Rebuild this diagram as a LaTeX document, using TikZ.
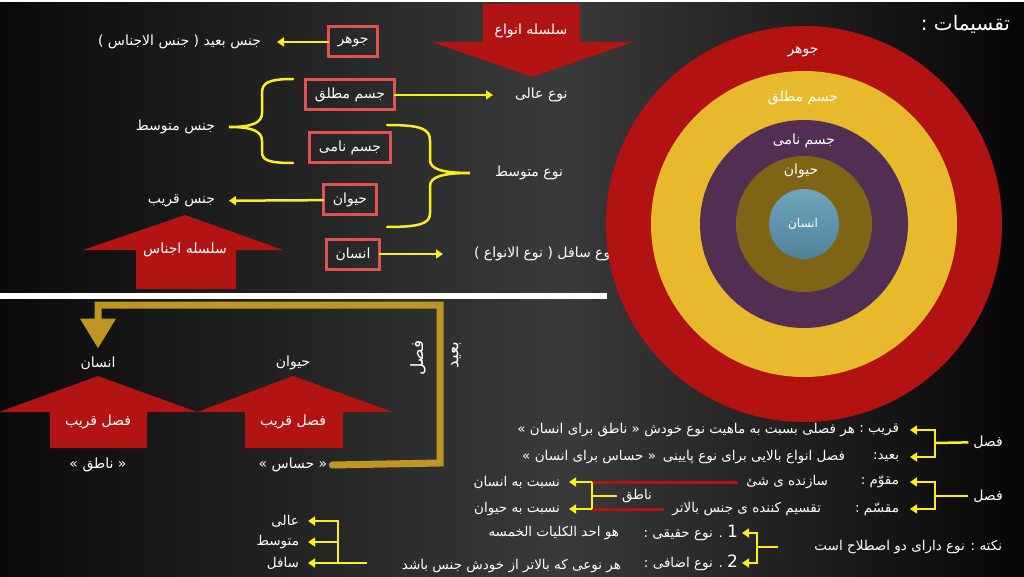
\documentclass[tikz,border=0pt]{standalone}
\usepackage{fontspec}
\setmainfont{DejaVu Sans}
\newfontfamily\arabicfont[Script=Arabic]{DejaVu Sans}
\TeXXeTstate=1
\usetikzlibrary{arrows.meta}
\definecolor{bgedge}{RGB}{10,10,10}
\definecolor{bgmid}{RGB}{58,58,58}
\definecolor{bgright}{RGB}{6,6,6}
\definecolor{arrowred}{RGB}{178,20,20}
\definecolor{boxred}{RGB}{226,82,82}
\definecolor{yel}{RGB}{250,238,30}
\definecolor{goldline}{RGB}{190,150,35}
\definecolor{ringred}{RGB}{178,18,18}
\definecolor{ringyel}{RGB}{232,185,45}
\definecolor{ringpur}{RGB}{82,46,82}
\definecolor{ringolive}{RGB}{128,100,22}
\definecolor{ringblueA}{RGB}{112,165,190}
\definecolor{ringblueB}{RGB}{80,130,155}
\newcommand{\fatext}[1]{\beginR#1\endR}
\newcommand{\fsbody}{\arabicfont\fontsize{14}{17}\selectfont}
\newcommand{\fsrow}{\arabicfont\fontsize{13.5}{16}\selectfont}
\newcommand{\fsbig}{\arabicfont\fontsize{20}{24}\selectfont}
\newcommand{\fsside}{\arabicfont\fontsize{17}{20}\selectfont}

\begin{document}
\begin{tikzpicture}[x=1pt,y=-1pt,
    txt/.style={text=white, inner sep=2pt, outer sep=0pt, font=\fsbody},
    rowtxt/.style={txt, anchor=east, font=\fsrow},
    redbox/.style={txt, draw=boxred, line width=3pt, inner xsep=9pt, minimum height=30pt},
    yline/.style={draw=yel, line width=2.5pt},
    yarr/.style={yline, -{Triangle[length=7pt,width=9pt]}},
    ybrace/.style={yline, line cap=round},
    redline/.style={draw=arrowred, line width=3pt},
    goldpath/.style={draw=goldline, line width=7pt, line cap=round}]
  \useasboundingbox (0,0) rectangle (1024,577);
  % background
  \shade[left color=bgedge, right color=bgmid] (0,0) rectangle (560,577);
  \shade[left color=bgmid, right color=bgright] (560,0) rectangle (1024,577);
  \draw[white, line width=2pt] (0,1) -- (1024,1);
  \fill[white] (0,293) rectangle (607,299);

  % block arrows, top
  \fill[arrowred] (483,4) -- (580,4) -- (580,42) -- (633,42) -- (532,77) -- (432,42) -- (483,42) -- cycle;
  \node[txt] (silanwa) at (531,31) {\fatext{سلسله انواع}};
  \fill[arrowred] (185,215) -- (283,250) -- (236,250) -- (236,289) -- (136,289) -- (136,250) -- (83,250) -- cycle;
  \node[txt] (silajnas) at (185,250) {\fatext{سلسله اجناس}};

  % boxes
  \node[redbox] (jawhar) at (353,42) {\fatext{جوهر}};
  \node[redbox] (jmutlaq) at (350,95) {\fatext{جسم مطلق}};
  \node[redbox] (jnami) at (350,148) {\fatext{جسم نامی}};
  \node[redbox] (haywan) at (350,200) {\fatext{حیوان}};
  \node[redbox] (insan) at (353,254) {\fatext{انسان}};

  \node[txt, anchor=east] (jbaid) at (263,42) {\fatext{جنس بعید ( جنس الاجناس )}};
  \node[txt, anchor=east] (jmid) at (217,127) {\fatext{جنس متوسط}};
  \node[txt, anchor=east] (jqarib) at (217,201) {\fatext{جنس قریب}};
  \node[txt, anchor=west] (nali) at (513,95) {\fatext{نوع عالی}};
  \node[txt, anchor=west] (nmid) at (493,173) {\fatext{نوع متوسط}};
  \node[txt, anchor=west] (nsafil) at (472,254) {\fatext{نوع سافل ( نوع الانواع )}};

  \draw[yarr, shorten >=14pt] (jawhar) -- (jbaid);
  \draw[yarr, shorten >=20pt] (jmutlaq) -- (nali);
  \draw[yarr, shorten >=12pt] (haywan) -- (jqarib);
  \draw[yarr, shorten >=29pt] (insan) -- (nsafil);

  \draw[ybrace] (293,79) .. controls (268,79) and (262,83) .. (262,93) -- (262,113)
    .. controls (262,123) and (252,127) .. (229,127) .. controls (252,127) and (262,131) .. (262,141)
    -- (262,152) .. controls (262,160) and (268,163) .. (293,163);
  \draw[ybrace] (387,125) .. controls (422,125) and (430,129) .. (430,141) -- (430,160)
    .. controls (430,169) and (442,173) .. (470,173) .. controls (442,173) and (430,177) .. (430,186)
    -- (430,213) .. controls (430,223) and (422,227) .. (387,227);

  % rings
  \fill[ringred] (804,224) circle[radius=198];
  \fill[ringyel] (804,224) circle[radius=153];
  \fill[ringpur] (804,224) circle[radius=104];
  \fill[ringolive] (804,224) circle[radius=68];
  \shade[top color=ringblueA, bottom color=ringblueB] (804,224) circle[radius=35];
  \node[txt] (rjawhar) at (803,52) {\fatext{جوهر}};
  \node[txt] (rmutlaq) at (803,98) {\fatext{جسم مطلق}};
  \node[txt] (rnami) at (804,141) {\fatext{جسم نامی}};
  \node[txt] (rhaywan) at (801,171) {\fatext{حیوان}};
  \node[txt, font=\arabicfont\fontsize{12}{14}\selectfont] (rinsan) at (803,224) {\fatext{انسان}};
  \node[txt, anchor=east, font=\fsbig] (taqsim) at (1012,24) {\fatext{تقسیمات :}};

  % bottom left
  \fill[arrowred] (98,376) -- (197,412) -- (147,412) -- (147,448) -- (50,448) -- (50,412) -- (-1,412) -- cycle;
  \fill[arrowred] (293,376) -- (393,412) -- (343,412) -- (343,448) -- (245,448) -- (245,412) -- (197,412) -- cycle;
  \node[txt] (qarib1) at (98,422) {\fatext{فصل قریب}};
  \node[txt] (qarib2) at (293,422) {\fatext{فصل قریب}};
  \node[txt] (insan2) at (98,363) {\fatext{انسان}};
  \node[txt] (haywan2) at (293,363) {\fatext{حیوان}};
  \node[txt] (natiq2) at (98,465) {\fatext{« ناطق »}};
  \node[txt] (hassas) at (293,465) {\fatext{« حساس »}};
  \coordinate (gc1) at (440,463);
  \coordinate (gc2) at (440,305);
  \coordinate (gc3) at (98,305);
  \draw[goldpath, -{Triangle[length=30pt,width=34pt]}, shorten >=6pt] ([xshift=3pt]hassas.east) -- (gc1) -- (gc2) -- (gc3) -- (insan2);
  \node[txt, rotate=90, font=\fsside] (faslv) at (418,358) {\fatext{فصل}};
  \node[txt, rotate=90, font=\fsside] (baidv) at (456,355) {\fatext{بعید}};

  % bottom right
  \node[rowtxt] (qaribL) at (901,430) {\fatext{قریب :}};
  \node[rowtxt] (qaribT) at (857,430) {\fatext{هر فصلی بسبت به ماهیت نوع خودش « ناطق برای انسان »}};
  \node[rowtxt] (baidL) at (901,457) {\fatext{بعید:}};
  \node[rowtxt] (baidT) at (847,457) {\fatext{فصل انواع بالایی برای نوع پایینی}};
  \node[rowtxt] (baidQ) at (658,457) {\fatext{« حساس برای انسان »}};
  \node[rowtxt] (muqL) at (901,482) {\fatext{مقوّم :}};
  \node[rowtxt] (muqT) at (830,482) {\fatext{سازنده ی شئ}};
  \node[rowtxt] (nisbaI) at (562,482) {\fatext{نسبت به انسان}};
  \node[rowtxt] (musL) at (901,509) {\fatext{مقسّم :}};
  \node[rowtxt] (musT) at (823,509) {\fatext{تقسیم کننده ی جنس بالاتر}};
  \node[rowtxt] (nisbaH) at (562,509) {\fatext{نسبت به حیوان}};
  \node[txt, font=\fsrow] (natiq) at (637,496) {\fatext{ناطق}};
  \node[txt] (fasl1) at (988,442) {\fatext{فصل}};
  \node[txt] (fasl2) at (988,496) {\fatext{فصل}};

  \coordinate (nv1) at (592,482);
  \coordinate (nv2) at (592,509);
  \coordinate (nvm) at (592,496);
  \draw[redline, shorten <=6pt] (muqT) -- (nv1);
  \draw[redline, shorten <=6pt] (musT) -- (nv2);
  \draw[yline] (nv1) -- (nv2);
  \draw[yline, shorten <=3pt] (natiq) -- (nvm);
  \draw[yarr, shorten >=7pt] (nv1) -- (nisbaI);
  \draw[yarr, shorten >=7pt] (nv2) -- (nisbaH);

  \coordinate (fb1) at (935,443);
  \coordinate (fb2) at (935,496);
  \draw[yline, shorten <=3pt] (fasl1) -- (fb1);
  \draw[yline, shorten <=3pt] (fasl2) -- (fb2);
  \draw[yarr, shorten >=9pt] (fb1) |- (qaribL);
  \draw[yarr, shorten >=9pt] (fb1) |- (baidL);
  \draw[yarr, shorten >=9pt] (fb2) |- (muqL);
  \draw[yarr, shorten >=9pt] (fb2) |- (musL);

  \node[rowtxt] (haqiqi) at (740,533) {\fatext{{\fontsize{17}{17}\selectfont 1} . نوع حقیقی :}};
  \node[rowtxt] (haqiqiT) at (621,533) {\fatext{هو احد الکلیات الخمسه}};
  \node[rowtxt] (idafi) at (740,563) {\fatext{{\fontsize{17}{17}\selectfont 2} . نوع اضافی :}};
  \node[rowtxt] (idafiT) at (623,566) {\fatext{هر نوعی که بالاتر از خودش جنس باشد}};
  \node[rowtxt] (nukta) at (1004,547) {\fatext{نکته : نوع دارای دو اصطلاح است}};
  \coordinate (nb) at (757,547);
  \draw[yline, shorten <=34pt] (nukta) -- (nb);
  \draw[yarr, shorten >=2pt] (nb) |- (haqiqi);
  \draw[yarr, shorten >=2pt] (nb) |- (idafi);

  \node[rowtxt] (ali) at (301,521) {\fatext{عالی}};
  \node[rowtxt] (mid) at (301,542) {\fatext{متوسط}};
  \node[rowtxt] (safil) at (301,563) {\fatext{سافل}};
  \coordinate (lb) at (338,563);
  \coordinate (lbe) at (367,563);
  \draw[yline] (lbe) -- (lb);
  \draw[yarr, shorten >=7pt] (lb) -- (safil);
  \draw[yarr, shorten >=7pt] (lb) |- (mid);
  \draw[yarr, shorten >=7pt] (lb) |- (ali);
\end{tikzpicture}
\end{document}
